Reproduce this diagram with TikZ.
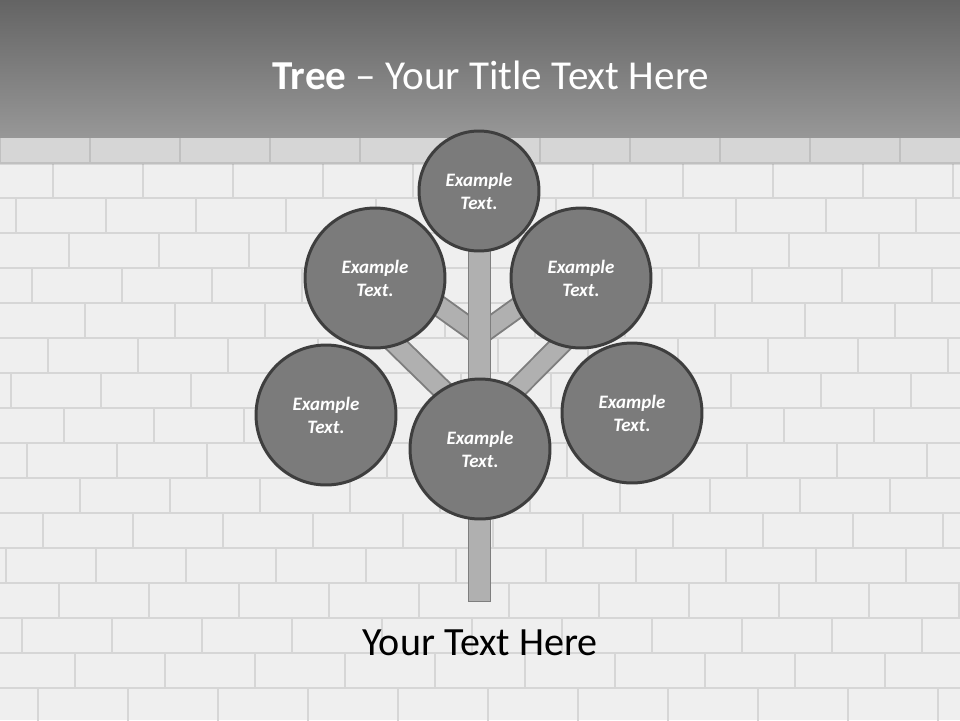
\documentclass[tikz,border=0pt]{standalone}
\usepackage{fontspec}
\setmainfont{Carlito}
\usepackage{xcolor}
\usepackage{tikz}
\usetikzlibrary{positioning,calc,backgrounds}

\definecolor{bandtop}{HTML}{646464}
\definecolor{bandbot}{HTML}{979797}
\definecolor{wall}{HTML}{EFEFEF}
\definecolor{mortar}{HTML}{D6D6D6}
\definecolor{ballfill}{HTML}{7B7B7B}
\definecolor{balledge}{HTML}{3E3E3E}
\definecolor{woodfill}{HTML}{B0B0B0}
\definecolor{woodedge}{HTML}{7E7E7E}

\begin{document}
\begin{tikzpicture}[
    x=0.02cm, y=-0.02cm,
    ball/.style={circle, draw=balledge, fill=ballfill, line width=1.7pt, minimum size=2.8cm, inner sep=0pt, text=white, align=center, font=\fontsize{10.8}{13}\selectfont\bfseries\itshape},
    smallball/.style={ball, minimum size=2.4cm},
    branch/.style={draw=woodedge, double=woodfill, line width=1.1pt, double distance=0.36cm},
    trunk/.style={draw=woodedge, fill=woodfill, line width=1.1pt},
    brick/.style={mortar, line width=0.9pt},
]
    \useasboundingbox (0,0) rectangle (960,720);

    % circles
    \node[smallball] (top) at (479,191) {Example\\Text.};
    \node[ball] (upleft) at (375,278) {Example\\Text.};
    \node[ball] (upright) at (581,278) {Example\\Text.};
    \node[ball] (lowleft) at (326,415) {Example\\Text.};
    \node[ball] (lowright) at (632,413) {Example\\Text.};
    \node[ball] (root) at (480,449) {Example\\Text.};

    \coordinate (forkhigh) at (479.5,335);
    \coordinate (forklow) at (479.5,426);

    % texts
    \node[text=white, font=\fontsize{23.4}{28}\selectfont] (title) at (491,75) {\textbf{Tree} – Your Title Text Here};
    \node[font=\fontsize{22.8}{28}\selectfont] (caption) at (480,643) {Your Text Here};

    \begin{scope}[on background layer]
        % brick wall
        \fill[wall] (0,137) rectangle (960,720);
        \foreach \r [evaluate=\r as \yb using 163+35*\r, evaluate=\r as \o using {mod(\r*53,90)}] in {0,...,16} {
            \draw[brick] (0,\yb) -- (960,\yb);
            \foreach \k in {-1,...,10}
                \draw[brick] (\o+90*\k,\yb-35) -- (\o+90*\k,\yb);
        }
        \fill[black, opacity=0.1] (0,137) rectangle (960,165);
        \shade[top color=bandtop, bottom color=bandbot] (0,0) rectangle (960,137);

        % branches and trunk
        \draw[branch] (forkhigh) -- ($(upleft)+(25,0)$);
        \draw[branch] (forkhigh) -- ($(upright)+(-22,0)$);
        \draw[branch] (forklow) -- ($(upleft)+(0,46)$);
        \draw[branch] (forklow) -- ($(upright)+(0,46)$);
        \draw[trunk] ($(top.south)+(-10.5,-10)$) rectangle ($(root.south)+(10.5,81)$);
    \end{scope}
\end{tikzpicture}
\end{document}
